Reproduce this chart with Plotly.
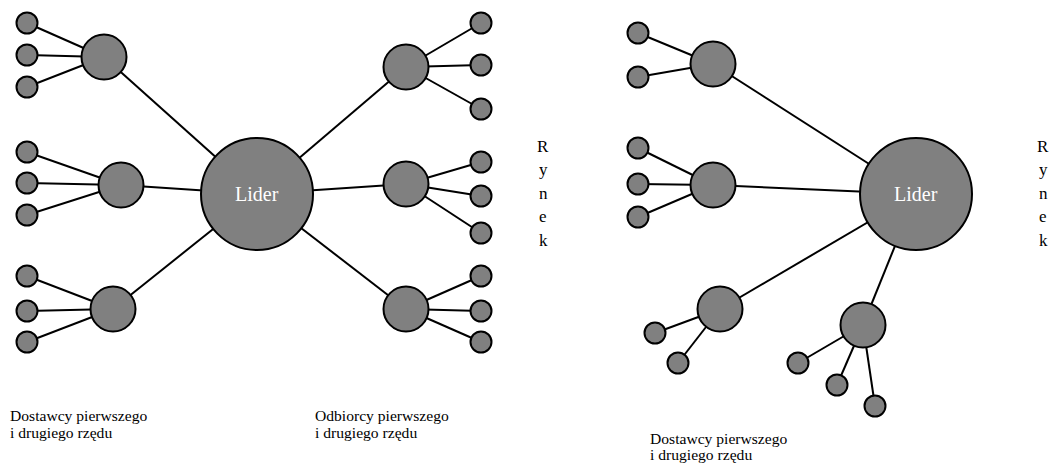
import plotly.graph_objects as go

# ---- node data (pixel-like coordinates on a 1052 x 463 canvas) ----
node_x = [257, 104, 121, 113,
          27, 27, 27, 27, 27, 27, 27, 27, 27,
          406, 406, 406,
          481, 481, 481, 481, 481, 481, 481, 481, 481,
          916, 713, 713, 720, 863,
          638, 638, 638, 638, 638, 655, 678, 798, 837, 875]
node_y = [194, 57, 185, 309,
          23, 55, 87, 152, 183, 215, 276, 311, 342,
          67, 184, 309,
          23, 65, 109, 162, 196, 233, 276, 311, 342,
          194, 64, 185, 309, 325,
          33, 77, 148, 184, 217, 333, 363, 363, 385, 406]
node_kind = ["leader", "hub", "hub", "hub",
             "small", "small", "small", "small", "small", "small", "small", "small", "small",
             "hub", "hub", "hub",
             "small", "small", "small", "small", "small", "small", "small", "small", "small",
             "leader", "hub", "hub", "hub", "hub",
             "small", "small", "small", "small", "small", "small", "small", "small", "small", "small"]

# edges as pairs of node indices
edges = [(0, 1), (0, 2), (0, 3), (0, 13), (0, 14), (0, 15),
         (1, 4), (1, 5), (1, 6), (2, 7), (2, 8), (2, 9), (3, 10), (3, 11), (3, 12),
         (13, 16), (13, 17), (13, 18), (14, 19), (14, 20), (14, 21), (15, 22), (15, 23), (15, 24),
         (25, 26), (25, 27), (25, 28), (25, 29),
         (26, 30), (26, 31), (27, 32), (27, 33), (27, 34), (28, 35), (28, 36),
         (29, 37), (29, 38), (29, 39)]

leader_label = "Lider"
market_letters = ["R", "y", "n", "e", "k"]
market_x = [543, 1043]
caption_lines = [
    ("Dostawcy pierwszego", 8, 415), ("i drugiego rzędu", 8, 432),
    ("Odbiorcy pierwszego", 313, 415), ("i drugiego rzędu", 313, 432),
    ("Dostawcy pierwszego", 648, 438), ("i drugiego rzędu", 648, 454),
]

size_map = {"leader": 112, "hub": 45, "small": 21}
FONT = "Liberation Serif, Times New Roman, serif"
W, H = 1052, 463

fig = go.Figure()

# edges
ex, ey = [], []
for a, b in edges:
    ex += [node_x[a], node_x[b], None]
    ey += [node_y[a], node_y[b], None]
fig.add_trace(go.Scatter(x=ex, y=ey, mode="lines",
                         line=dict(color="black", width=2),
                         hoverinfo="skip", showlegend=False))

# nodes
fig.add_trace(go.Scatter(
    x=node_x, y=node_y, mode="markers",
    marker=dict(size=[size_map[k] for k in node_kind], color="#808080",
                line=dict(color="black", width=2), opacity=1),
    hoverinfo="skip", showlegend=False))

annotations = []
for i, k in enumerate(node_kind):
    if k == "leader":
        annotations.append(dict(x=node_x[i], y=node_y[i], text=leader_label,
                                showarrow=False, xanchor="center", yanchor="middle",
                                font=dict(family=FONT, size=20, color="white")))
for mx in market_x:
    for j, letter in enumerate(market_letters):
        annotations.append(dict(x=mx, y=146 + j * 23.5, text=letter, showarrow=False,
                                xanchor="center", yanchor="middle",
                                font=dict(family=FONT, size=17, color="black")))
for txt, cx, cy in caption_lines:
    annotations.append(dict(x=cx, y=cy, text=txt, showarrow=False,
                            xanchor="left", yanchor="middle",
                            font=dict(family=FONT, size=15.6, color="black")))

fig.update_layout(
    width=W, height=H,
    margin=dict(l=0, r=0, t=0, b=0),
    paper_bgcolor="white", plot_bgcolor="white",
    xaxis=dict(range=[0, W], visible=False, fixedrange=True),
    yaxis=dict(range=[H, 0], visible=False, fixedrange=True),
    annotations=annotations,
    font=dict(family=FONT),
)

fig.write_html(
    "out.html",
    config={"displayModeBar": False},
    post_script="document.body.style.margin='0';document.body.style.overflow='hidden';",
)
